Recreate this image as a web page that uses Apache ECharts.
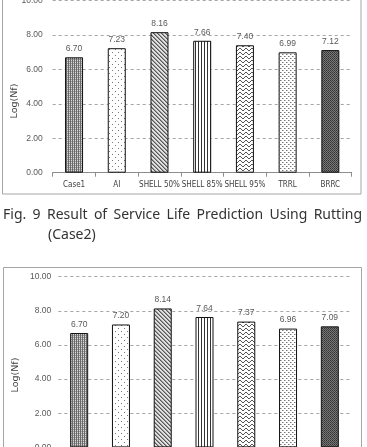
<!DOCTYPE html>
<html><head><meta charset="utf-8">
<script src="https://cdn.jsdelivr.net/npm/echarts@6/dist/echarts.min.js"></script>
<style>html,body{margin:0;padding:0;background:#fff;}#c{width:367px;height:447px;}</style>
</head><body><div id="c"></div>
<script>
const categories = ['Case1', 'AI', 'SHELL 50%', 'SHELL 85%', 'SHELL 95%', 'TRRL', 'BRRC'];
const valuesTop = [6.70, 7.23, 8.16, 7.66, 7.40, 6.99, 7.12];
const valuesBottom = [6.70, 7.20, 8.14, 7.64, 7.37, 6.96, 7.09];
const yMin = 0, yMax = 10, yStep = 2;
const yAxisTitle = 'Log(Nf)';
const captionLine1 = 'Fig. 9 Result of Service Life Prediction Using Rutting';
const captionLine2 = '(Case2)';

function tile(w, h, draw) {
  const c = document.createElement('canvas');
  c.width = w; c.height = h;
  const g = c.getContext('2d');
  draw(g);
  return { image: c, repeat: 'repeat' };
}
function px(g, x, y, col) { g.fillStyle = col; g.fillRect(x, y, 1, 1); }
const patterns = [
  tile(2, 2, g => { g.fillStyle = '#d8d8d8'; g.fillRect(0,0,2,2); g.fillStyle = '#6a6a6a'; g.fillRect(0,0,1,2); px(g,1,1,'#9a9a9a'); }),
  tile(6, 6, g => { g.fillStyle = '#ffffff'; g.fillRect(0,0,6,6); px(g,1,1,'#777'); px(g,4,4,'#777'); }),
  tile(4, 4, g => { g.fillStyle = '#e0e0e0'; g.fillRect(0,0,4,4); for (let i=0;i<4;i++){ px(g,i,i,'#555'); } px(g,1,0,'#999'); px(g,2,1,'#999'); px(g,3,2,'#999'); px(g,0,3,'#999'); }),
  tile(3, 2, g => { g.fillStyle = '#ffffff'; g.fillRect(0,0,3,2); g.fillStyle = '#333'; g.fillRect(0,0,1,2); }),
  tile(6, 4, g => { g.fillStyle = '#ffffff'; g.fillRect(0,0,6,4); px(g,0,0,'#555'); px(g,1,1,'#555'); px(g,2,2,'#555'); px(g,3,2,'#555'); px(g,4,1,'#555'); px(g,5,0,'#555'); }),
  tile(4, 4, g => { g.fillStyle = '#ffffff'; g.fillRect(0,0,4,4); px(g,0,0,'#777'); px(g,2,2,'#777'); px(g,1,0,'#bbb'); px(g,3,2,'#bbb'); }),
  tile(2, 2, g => { g.fillStyle = '#777'; g.fillRect(0,0,2,2); px(g,0,0,'#333'); px(g,1,1,'#444'); })
];

const numFont = '"Liberation Sans", Arial, sans-serif';
const catFont = '"DejaVu Sans Condensed", "Liberation Sans", sans-serif';
const labelColor = '#595959';

function makeData(vals) {
  return vals.map((v, i) => ({ value: v, itemStyle: { color: patterns[i], borderColor: '#111', borderWidth: 1 } }));
}
function xAxisDef(gi) {
  return {
    type: 'category', gridIndex: gi, data: categories,
    axisLine: { lineStyle: { color: '#8c8c8c', width: 1 } },
    axisTick: { show: true, alignWithLabel: false, length: 4, lineStyle: { color: '#8c8c8c' } },
    axisLabel: { interval: 0, color: '#404040', fontFamily: catFont, fontSize: 8, margin: 8, hideOverlap: false }
  };
}
function yAxisDef(gi, margin) {
  return {
    type: 'value', gridIndex: gi, min: yMin, max: yMax, interval: yStep,
    axisLine: { show: false }, axisTick: { show: false },
    axisLabel: { color: labelColor, fontFamily: numFont, fontSize: 8.5, margin: margin, formatter: v => v.toFixed(2) },
    splitLine: { lineStyle: { color: '#a6a6a6', type: [3, 3], width: 1 } }
  };
}
function seriesDef(gi, vals) {
  return {
    type: 'bar', xAxisIndex: gi, yAxisIndex: gi, data: makeData(vals), barWidth: 18,
    label: { show: true, position: 'top', distance: 4, color: labelColor, fontFamily: numFont, fontSize: 8.5, formatter: p => p.value.toFixed(2) }
  };
}

function justifiedWords(text, x0, x1, y, fontStr) {
  const cv = document.createElement('canvas').getContext('2d');
  cv.font = fontStr;
  const words = text.split(' ');
  const widths = words.map(w => cv.measureText(w).width);
  const total = widths.reduce((a, b) => a + b, 0);
  const gap = (x1 - x0 - total) / (words.length - 1);
  let x = x0;
  return words.map((w, i) => {
    const el = { type: 'text', x: x, y: y, silent: true, style: { text: w, fill: '#333', font: fontStr, textAlign: 'left', textVerticalAlign: 'middle' } };
    x += widths[i] + gap;
    return el;
  });
}
const capFont = '14px "Noto Sans"';

const chart = echarts.init(document.getElementById('c'));
chart.setOption({
  animation: false,
  backgroundColor: '#fff',
  grid: [
    { left: 52.7, right: 15.3, top: 0.5, height: 172.2, containLabel: false, outerBoundsMode: 'none' },
    { left: 58.3, right: 16.3, top: 276.7, height: 170.7, containLabel: false, outerBoundsMode: 'none' }
  ],
  xAxis: [xAxisDef(0), xAxisDef(1)],
  yAxis: [yAxisDef(0, 10), yAxisDef(1, 7)],
  series: [seriesDef(0, valuesTop), seriesDef(1, valuesBottom)],
  graphic: [
    { type: 'rect', shape: { x: 2.5, y: -10, width: 358.5, height: 204 }, style: { fill: 'none', stroke: '#a6a6a6', lineWidth: 1 }, silent: true },
    { type: 'rect', shape: { x: 3.5, y: 267.5, width: 358, height: 200 }, style: { fill: 'none', stroke: '#a6a6a6', lineWidth: 1 }, silent: true },
    { type: 'text', x: 15, y: 101, rotation: Math.PI / 2, silent: true, style: { text: yAxisTitle, fill: '#404040', font: '9.5px "DejaVu Sans"', textAlign: 'center', textVerticalAlign: 'middle' } },
    { type: 'text', x: 16, y: 375, rotation: Math.PI / 2, silent: true, style: { text: yAxisTitle, fill: '#404040', font: '9.5px "DejaVu Sans"', textAlign: 'center', textVerticalAlign: 'middle' } },
    ...justifiedWords(captionLine1, 3, 362, 215, capFont),
    { type: 'text', x: 48, y: 235.5, silent: true, style: { text: captionLine2, fill: '#333', font: capFont, textAlign: 'left', textVerticalAlign: 'middle' } }
  ]
});
</script></body></html>
